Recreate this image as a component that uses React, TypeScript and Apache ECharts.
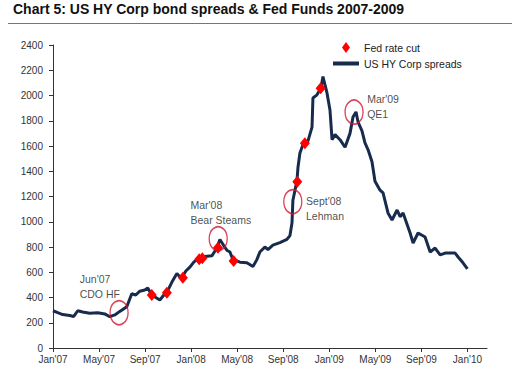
import React, { useEffect, useRef } from 'react';
import * as echarts from 'echarts';

const tickMonths = [0, 4, 8, 12, 16, 20, 24, 28, 32, 36];
const tickLabels = ["Jan'07", "May'07", "Sep'07", "Jan'08", "May'08", "Sep'08", "Jan'09", "May'09", "Sep'09", "Jan'10"];

// months since Jan 2007
const spreadMonths = [
  0, 0.41, 0.84, 1.45, 1.8, 2.15, 2.58, 3.19, 3.89, 4.5, 4.93, 5.37, 5.8, 6.41, 6.84, 7.19, 7.54, 7.97, 8.23, 8.58,
  8.93, 9.28, 9.63, 9.89, 10.32, 10.76, 11.02, 11.28, 11.54, 11.89, 12.23, 12.5, 12.76, 13.2, 13.8, 14.23, 14.5, 14.84,
  15.1, 15.37, 15.63, 15.97, 16.24, 16.84, 17.37, 17.71, 17.97, 18.41, 18.67, 19.1, 19.71, 20.32, 20.58, 20.76, 20.84,
  21.02, 21.19, 21.28, 21.45, 21.71, 21.89, 22.15, 22.5, 22.58, 22.93, 23.28, 23.45, 23.8, 24.06, 24.24, 24.5, 24.93,
  25.37, 25.8, 26.06, 26.32, 26.5, 26.84, 27.1, 27.37, 27.71, 27.97, 28.41, 28.67, 29.1, 29.45, 29.89, 30.15, 30.41,
  31.02, 31.28, 31.71, 32.32, 32.76, 33.19, 33.63, 34.06, 34.93, 35.19, 35.63, 36,
];
const spreadValues = [
  295, 280, 265, 258, 250, 295, 285, 275, 280, 270, 248, 262, 290, 327, 430, 420, 450, 460, 475, 420,
  400, 380, 420, 440, 520, 590, 565, 570, 610, 640, 680, 700, 700, 725, 730, 790, 860, 810,
  775, 760, 700, 690, 680, 675, 645, 700, 760, 800, 780, 815, 835, 860, 890, 990, 1170,
  1250, 1320, 1430, 1545, 1610, 1625, 1640, 1750, 1980, 2005, 2060, 2150, 2020, 1885, 1650, 1690, 1650,
  1590, 1700, 1830, 1870, 1790, 1720, 1624, 1570, 1475, 1320, 1250, 1228, 1070, 1014, 1093, 1040, 1069,
  911, 832, 911, 879, 760, 792, 737, 752, 752, 721, 673, 626,
];

const cutMonths = [8.58, 9.89, 11.28, 12.7, 12.97, 14.33, 15.69, 21.22, 21.88, 23.25];
const cutValues = [420, 438, 557, 702, 710, 795, 689, 1317, 1621, 2057];

const eventMonths = [5.74, 14.35, 20.83, 26.15];
const eventValues = [280, 866, 1159, 1869];

const noteMonths = [2.32, 11.94, 21.98, 27.29];
const noteValues = [486, 1073, 1102, 1915];
const noteTexts = ["Jun'07\nCDO HF", "Mar'08\nBear Steams", "Sept'08\nLehman", "Mar'09\nQE1"];

const FONT = "'Liberation Sans', Arial, sans-serif";

export default function App() {
  const ref = useRef<HTMLDivElement>(null);
  useEffect(() => {
    if (!ref.current) return;
    const chart = echarts.init(ref.current, null, { renderer: 'svg' });
    chart.setOption({
      animation: false,
      backgroundColor: '#ffffff',
      textStyle: { fontFamily: FONT },
      title: {
        text: 'Chart 5: US HY Corp bond spreads & Fed Funds 2007-2009',
        left: 13,
        top: 2,
        padding: 0,
        textStyle: { fontFamily: FONT, fontSize: 14, fontWeight: 'bold', color: '#111' },
      },
      graphic: [
        { type: 'line', shape: { x1: 8, y1: 23.5, x2: 512, y2: 23.5 }, style: { stroke: '#777', lineWidth: 1 } },
      ],
      legend: {
        orient: 'vertical',
        left: 333,
        top: 42,
        padding: 0,
        itemWidth: 26,
        itemHeight: 11,
        itemGap: 5,
        textStyle: { fontFamily: FONT, fontSize: 10.5, color: '#222' },
        data: [
          { name: 'Fed rate cut', icon: 'path://M4 0 L8 5.5 L4 11 L0 5.5 Z', itemStyle: { color: '#ff0000' } },
          { name: 'US HY Corp spreads', icon: 'path://M0 0 H26 V4 H0 Z', itemStyle: { color: '#172b4d' } },
        ],
      },
      grid: { left: 53, top: 45, right: 34, bottom: 29, containLabel: false },
      xAxis: {
        type: 'value',
        min: 0,
        max: 37.7,
        splitLine: { show: false },
        axisLine: { lineStyle: { color: '#333', width: 1 } },
        axisTick: { show: true, length: 4, lineStyle: { color: '#333' }, customValues: tickMonths },
        axisLabel: {
          customValues: tickMonths,
          formatter: (v: number) => {
            const i = tickMonths.indexOf(Math.round(v));
            return i >= 0 ? tickLabels[i] : '';
          },
          fontFamily: FONT,
          fontSize: 10,
          color: '#333',
          margin: 6,
        },
      },
      yAxis: {
        type: 'value',
        min: 0,
        max: 2400,
        interval: 200,
        splitLine: { show: false },
        axisLine: { show: true, lineStyle: { color: '#333', width: 1 } },
        axisTick: { show: true, length: 4, lineStyle: { color: '#333' } },
        axisLabel: { fontFamily: FONT, fontSize: 10, color: '#333', margin: 10, formatter: (v: number) => String(v) },
      },
      series: [
        {
          name: 'US HY Corp spreads',
          type: 'line',
          data: spreadMonths.map((m, i) => [m, spreadValues[i]]),
          showSymbol: false,
          symbol: 'none',
          lineStyle: { color: '#172b4d', width: 3 },
          itemStyle: { color: '#172b4d' },
          z: 2,
        },
        {
          name: 'Fed rate cut',
          type: 'scatter',
          symbol: 'diamond',
          symbolSize: [10, 12],
          data: cutMonths.map((m, i) => [m, cutValues[i]]),
          itemStyle: { color: '#ff0000', opacity: 1 },
          z: 3,
        },
        {
          name: 'events',
          type: 'scatter',
          symbol: 'circle',
          symbolSize: [18, 24],
          data: eventMonths.map((m, i) => [m, eventValues[i]]),
          itemStyle: { color: 'rgba(0,0,0,0)', borderColor: '#d0142e', borderWidth: 1.5 },
          z: 4,
          silent: true,
        },
        {
          name: 'notes',
          type: 'scatter',
          symbolSize: 0,
          data: noteMonths.map((m, i) => ({ value: [m, noteValues[i]], name: noteTexts[i] })),
          label: {
            show: true,
            position: 'right',
            distance: 0,
            formatter: (p: any) => p.name,
            fontFamily: FONT,
            fontSize: 10.5,
            lineHeight: 15,
            color: '#1a1a1a',
            align: 'left',
          },
          z: 5,
          silent: true,
        },
      ],
    });
    return () => chart.dispose();
  }, []);
  return <div ref={ref} style={{ position: 'fixed', left: 0, top: 0, width: 521, height: 377 }} />;
}
